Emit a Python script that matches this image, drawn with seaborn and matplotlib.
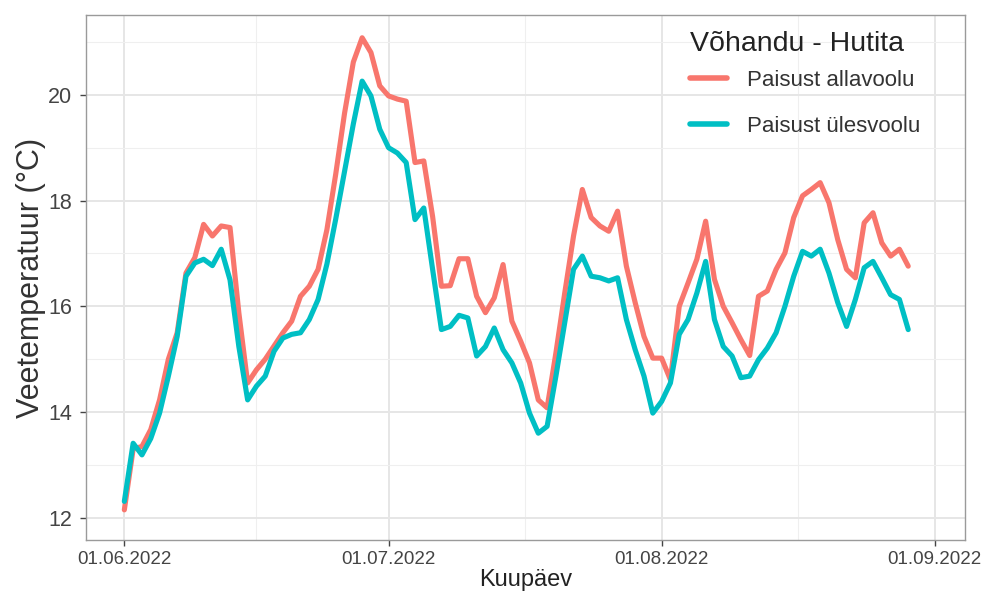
import matplotlib
matplotlib.use("Agg")
import matplotlib.pyplot as plt
import matplotlib.dates as mdates
import matplotlib.ticker as mticker
import numpy as np
import pandas as pd
import seaborn as sns

# daily mean water temperature, 01.06.2022 - 29.08.2022
dates = pd.date_range("2022-06-01", "2022-08-29", freq="D")
allavoolu = [12.15, 13.3, 13.35, 13.67, 14.23, 15.0, 15.5, 16.63, 16.92, 17.55,
             17.33, 17.52, 17.49, 15.88, 14.55, 14.8, 15.0, 15.25, 15.5, 15.72,
             16.19, 16.38, 16.7, 17.45, 18.5, 19.65, 20.62, 21.08, 20.8, 20.17,
             19.98, 19.92, 19.88, 18.72, 18.75, 17.7, 16.38, 16.39, 16.9, 16.9,
             16.19, 15.88, 16.16, 16.79, 15.72, 15.34, 14.93, 14.23, 14.08, 15.12,
             16.25, 17.33, 18.21, 17.68, 17.52, 17.42, 17.8, 16.76, 16.07, 15.43,
             15.02, 15.02, 14.61, 16.0, 16.44, 16.89, 17.61, 16.51, 16.0, 15.69,
             15.37, 15.07, 16.19, 16.29, 16.7, 17.01, 17.68, 18.09, 18.21, 18.34,
             17.96, 17.26, 16.7, 16.54, 17.58, 17.77, 17.2, 16.95, 17.08, 16.76]
ulesvoolu = [12.31, 13.41, 13.19, 13.5, 13.98, 14.68, 15.43, 16.57, 16.82, 16.89,
             16.77, 17.08, 16.5, 15.24, 14.23, 14.49, 14.68, 15.15, 15.4, 15.47,
             15.5, 15.75, 16.13, 16.8, 17.65, 18.55, 19.45, 20.26, 19.98, 19.35,
             19.0, 18.9, 18.72, 17.64, 17.86, 16.7, 15.56, 15.62, 15.83, 15.78,
             15.06, 15.24, 15.59, 15.18, 14.93, 14.55, 13.98, 13.6, 13.73, 14.68,
             15.69, 16.7, 16.95, 16.57, 16.54, 16.48, 16.54, 15.75, 15.18, 14.68,
             13.98, 14.2, 14.55, 15.47, 15.75, 16.25, 16.85, 15.75, 15.24, 15.06,
             14.65, 14.68, 14.99, 15.21, 15.5, 16.0, 16.57, 17.04, 16.95, 17.08,
             16.63, 16.07, 15.62, 16.13, 16.73, 16.85, 16.54, 16.22, 16.13, 15.56]
series_names = ["Paisust allavoolu", "Paisust ülesvoolu"]
colors = ["#F8766D", "#00BFC4"]

df = pd.DataFrame({
    "Kuupäev": list(dates) * 2,
    "temp": allavoolu + ulesvoolu,
    "koht": [series_names[0]] * len(dates) + [series_names[1]] * len(dates),
})

sns.set_theme(style="whitegrid")
plt.rcParams["font.family"] = ["Liberation Sans", "DejaVu Sans"]

fig = plt.figure(figsize=(9.91, 6.01), dpi=100)
ax = fig.add_axes([0.0868, 0.1015, 0.8870, 0.8735])

sns.lineplot(data=df, x="Kuupäev", y="temp", hue="koht", hue_order=series_names,
             palette=colors, linewidth=3.7, ax=ax, legend=True)

# axes limits / ticks like ggplot
x0 = pd.Timestamp("2022-06-01")
ax.set_xlim(mdates.date2num(x0 - pd.Timedelta(days=4.35)),
            mdates.date2num(x0 + pd.Timedelta(days=95.45)))
ax.set_ylim(11.58, 21.51)
major_x = pd.to_datetime(["2022-06-01", "2022-07-01", "2022-08-01", "2022-09-01"])
ax.set_xticks(mdates.date2num(major_x))
ax.set_xticklabels([d.strftime("%d.%m.%Y") for d in major_x])
mx = mdates.date2num(major_x)
ax.xaxis.set_minor_locator(mticker.FixedLocator((mx[:-1] + mx[1:]) / 2))
ax.set_yticks([12, 14, 16, 18, 20])
ax.yaxis.set_minor_locator(mticker.FixedLocator([13, 15, 17, 19, 21]))

ax.grid(which="major", color="#e6e6e6", linewidth=1.4)
ax.grid(which="minor", color="#efefef", linewidth=0.8)
ax.set_axisbelow(True)
for s in ax.spines.values():
    s.set_color("#9a9a9a")
    s.set_linewidth(1.0)
ax.tick_params(axis="both", which="major", length=4, width=1.0, color="#444444",
               labelcolor="#444444", pad=4, bottom=True, left=True)
ax.tick_params(axis="x", labelsize=13.5)
ax.tick_params(axis="y", labelsize=15.5, pad=6)
ax.tick_params(which="minor", length=0)

ax.set_xlabel("Kuupäev", fontsize=17, color="#222222", labelpad=1)
ax.set_ylabel("Veetemperatuur (°C)", fontsize=22, color="#333333", labelpad=1.5)

handles, labels = ax.get_legend_handles_labels()
leg = ax.legend(handles, labels, loc="upper left",
                bbox_to_anchor=(0.687, 0.895), frameon=False, borderpad=0,
                borderaxespad=0, fontsize=16, handlelength=1.67,
                handletextpad=0.9, labelspacing=1.13)
for line in leg.get_lines():
    line.set_linewidth(4.0)
for t in leg.get_texts():
    t.set_color("#333333")
ax.text(0.687, 0.945, "Võhandu - Hutita", transform=ax.transAxes,
        ha="left", va="center", fontsize=20.5, color="#222222")

fig.savefig("out.png", dpi=100)
